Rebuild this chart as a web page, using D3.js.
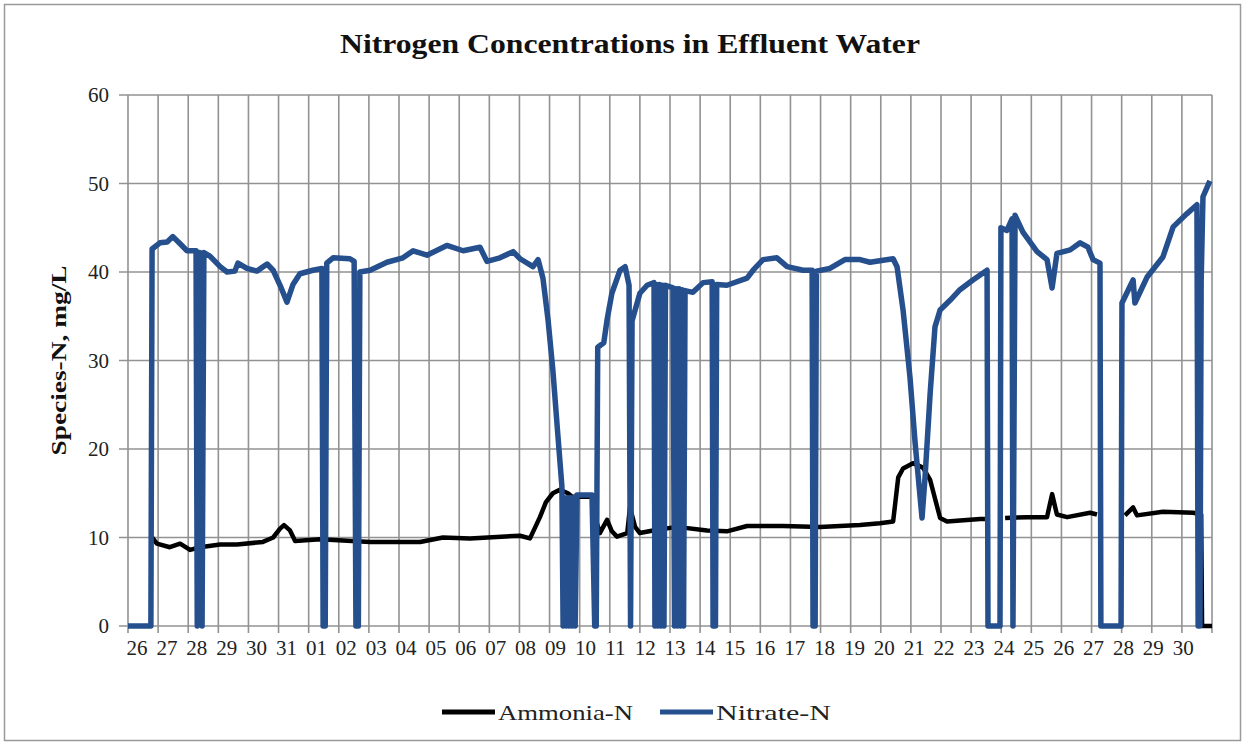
<!DOCTYPE html>
<html>
<head>
<meta charset="utf-8">
<script src="https://cdn.jsdelivr.net/npm/d3@7"></script>
<style>
  html, body { margin: 0; padding: 0; background: #fff; }
  svg { display: block; }
  text { font-family: "Liberation Serif", "Times New Roman", serif; fill: #222; }
</style>
</head>
<body>
<script>
'use strict';

// Category labels (one per day along the axis)
const dayLabels = ['26', '27', '28', '29', '30', '31', '01', '02', '03', '04', '05', '06',
  '07', '08', '09', '10', '11', '12', '13', '14', '15', '16', '17', '18', '19', '20',
  '21', '22', '23', '24', '25', '26', '27', '28', '29', '30'];

const yTicks = [0, 10, 20, 30, 40, 50, 60];

// Nitrate-N: time in days from start, value mg/L
const nitrateT = [0, 0.76, 0.80, 1.06, 1.30, 1.49, 1.73, 1.96, 2.26, 2.30, 2.38, 2.46, 2.52, 2.72, 3.06,
  3.29, 3.55, 3.65, 3.95, 4.28, 4.62, 4.82, 5.05, 5.28, 5.48, 5.71, 6.14, 6.44, 6.48, 6.55,
  6.60, 6.81, 7.37, 7.51, 7.57, 7.65, 7.70, 8.04, 8.60, 9.13, 9.47, 9.93, 10.59, 11.13, 11.69,
  11.92, 12.35, 12.79, 13.02, 13.45, 13.62, 13.78, 13.95, 14.11, 14.28, 14.41, 14.45, 14.50,
  14.55, 14.60, 14.65, 14.70, 14.75, 14.80, 14.85, 14.91, 15.41, 15.50, 15.55, 15.60, 15.80,
  15.91, 16.07, 16.34, 16.51, 16.64, 16.69, 16.74, 17.00, 17.24, 17.47, 17.50, 17.55, 17.60,
  17.65, 17.70, 17.75, 17.80, 17.85, 18.10, 18.15, 18.20, 18.25, 18.30, 18.35, 18.40, 18.45,
  18.50, 18.76, 19.10, 19.40, 19.43, 19.51, 19.55, 19.89, 20.56, 20.76, 21.09, 21.55,
  21.89, 22.42, 22.72, 22.75, 22.82, 22.86, 23.31, 23.81, 24.31, 24.64, 25.41, 25.54, 25.74,
  25.97, 26.14, 26.37, 26.47, 26.64, 26.80, 26.97, 27.30, 27.63, 28.06, 28.53, 28.56, 28.96,
  28.99, 29.19, 29.36, 29.39, 29.46, 29.72, 30.19, 30.52, 30.69, 30.85, 31.29, 31.62, 31.88,
  32.05, 32.28, 32.31, 32.98, 33.01, 33.38, 33.44, 33.84, 34.37, 34.71, 35.17, 35.50, 35.54,
  35.60, 35.64, 35.70, 35.93];
const nitrateN = [0, 0, 42.6, 43.3, 43.4, 44.0, 43.2, 42.4, 42.4, 0, 42.2, 0, 42.2, 41.8, 40.6,
  40.0, 40.1, 41.0, 40.4, 40.1, 40.9, 40.2, 38.5, 36.6, 38.6, 39.8, 40.2, 40.4, 0, 0,
  41.0, 41.6, 41.5, 41.2, 0, 0, 40.0, 40.2, 41.1, 41.6, 42.4, 41.9, 43.0, 42.4, 42.8,
  41.2, 41.6, 42.3, 41.5, 40.6, 41.4, 39.3, 34.6, 28.9, 21.4, 15.8, 0, 14.5,
  0, 14.5, 0, 14.5, 0, 14.5, 0, 14.8, 14.8, 0, 0, 31.5, 32.0,
  34.6, 37.6, 40.2, 40.6, 38.5, 0, 34.5, 37.6, 38.5, 38.8, 0, 38.6, 0,
  38.6, 0, 38.5, 0, 38.5, 38.2, 0, 38.1, 0, 38.1, 0, 38.0, 0,
  37.9, 37.7, 38.8, 38.9, 0, 0, 38.6, 38.5, 39.3, 40.2, 41.4, 41.6,
  40.6, 40.2, 40.2, 0, 0, 40.1, 40.4, 41.4, 41.4, 41.1, 41.5, 40.6, 35.7,
  28.1, 20.7, 12.2, 16.8, 26.3, 33.8, 35.7, 36.8, 38.0, 39.1, 40.2, 0, 0,
  45.0, 44.7, 46.0, 0, 46.4, 44.5, 42.3, 41.4, 38.2, 42.1, 42.5, 43.3, 42.8,
  41.4, 41.0, 0, 0, 36.5, 39.1, 36.5, 39.4, 41.7, 45.1, 46.6, 47.6, 0,
  0, 39.0, 48.5, 50.3];

// Ammonia-N: time in days from start, value mg/L (null = no reading)
const ammoniaT = [0.80, 0.96, 1.39, 1.73, 2.06, 2.39, 3.06, 3.62, 4.48, 4.82, 5.05, 5.18, 5.38,
  5.55, 6.38, 8.04, 9.70, 10.46, 11.36, 13.02, 13.35, 13.68, 13.88, 14.11, 14.34, 14.61, 14.75,
  15.41, 15.47, 15.54, 15.67, 15.91, 16.07, 16.24, 16.58, 16.67, 16.84, 17.00, 17.44, 18.23,
  19.23, 19.89, 20.56, 21.75, 22.98, 24.31, 24.97, 25.41, 25.58, 25.74, 26.07, 26.40, 26.64,
  26.97, 27.20, 28.30, 28.46, 28.50, 29.13, 29.86, 30.52, 30.69, 30.85, 31.19, 31.95, 32.18,
  32.20, 33.11, 33.38, 33.51, 34.37, 35.38, 35.64, 35.67, 36.0];
const ammoniaN = [10.0, 9.3, 8.9, 9.3, 8.6, 8.9, 9.2, 9.2, 9.5, 10.0, 11.0, 11.4, 10.8,
  9.6, 9.8, 9.5, 9.5, 10.0, 9.9, 10.2, 9.9, 12.3, 14.0, 15.0, 15.4, 15.0, 14.6,
  14.6, 13.5, 12.0, 10.5, 12.0, 10.7, 10.1, 10.5, 13.4, 11.2, 10.5, 10.8, 11.2,
  10.8, 10.7, 11.3, 11.3, 11.2, 11.4, 11.6, 11.8, 16.8, 17.8, 18.4, 17.9, 16.5,
  12.2, 11.8, 12.1, 12.1, null, 12.2, 12.3, 12.3, 14.9, 12.6, 12.3, 12.8, 12.6,
  null, 12.5, 13.4, 12.5, 12.9, 12.8, 12.6, 0, 0];

const series = [
  { name: 'Ammonia-N', color: '#000000', width: 4.5, t: ammoniaT, v: ammoniaN },
  { name: 'Nitrate-N', color: '#254f8d', width: 5.5, t: nitrateT, v: nitrateN }
];

// Layout
const W = 1254, H = 746;
const plot = { left: 128, right: 1212, top: 95, bottom: 626 };

const svg = d3.select('body').append('svg')
  .attr('width', W)
  .attr('height', H);

// Outer chart border
svg.append('rect')
  .attr('x', 4.5).attr('y', 4.5)
  .attr('width', 1236).attr('height', 736)
  .attr('fill', '#fff')
  .attr('stroke', '#9a9a9a')
  .attr('stroke-width', 1.5);

const x = d3.scaleLinear().domain([0, dayLabels.length]).range([plot.left, plot.right]);
const y = d3.scaleLinear().domain([0, 60]).range([plot.bottom, plot.top]);

const gridColor = '#929292';

// Horizontal gridlines (with short ticks to the left)
svg.append('g')
  .selectAll('line')
  .data(yTicks)
  .enter().append('line')
  .attr('x1', plot.left - 9)
  .attr('x2', plot.right)
  .attr('y1', d => y(d))
  .attr('y2', d => y(d))
  .attr('stroke', gridColor)
  .attr('stroke-width', 1.6);

// Vertical gridlines (with ticks below the axis)
svg.append('g')
  .selectAll('line')
  .data(d3.range(dayLabels.length + 1))
  .enter().append('line')
  .attr('x1', d => x(d))
  .attr('x2', d => x(d))
  .attr('y1', plot.top)
  .attr('y2', plot.bottom + 7)
  .attr('stroke', gridColor)
  .attr('stroke-width', 1.6);

// Y tick labels
svg.append('g')
  .selectAll('text')
  .data(yTicks)
  .enter().append('text')
  .attr('x', plot.left - 19)
  .attr('y', d => y(d) + 7)
  .attr('text-anchor', 'end')
  .style('font-size', '21px')
  .text(d => d);

// X tick labels
svg.append('g')
  .selectAll('text')
  .data(dayLabels)
  .enter().append('text')
  .attr('x', (d, i) => x(i + 0.3) - i * 0.22)
  .attr('y', plot.bottom + 29)
  .attr('text-anchor', 'middle')
  .style('font-size', '21px')
  .text(d => d);

// Title
svg.append('text')
  .attr('x', 630)
  .attr('y', 53)
  .attr('text-anchor', 'middle')
  .attr('textLength', 580)
  .attr('lengthAdjust', 'spacingAndGlyphs')
  .style('font-size', '28px')
  .style('font-weight', 'bold')
  .style('fill', '#111')
  .text('Nitrogen Concentrations  in Effluent Water');

// Y axis title
svg.append('text')
  .attr('transform', `translate(66,${(plot.top + plot.bottom) / 2}) rotate(-90)`)
  .attr('text-anchor', 'middle')
  .attr('textLength', 190)
  .attr('lengthAdjust', 'spacingAndGlyphs')
  .style('font-size', '21px')
  .style('font-weight', 'bold')
  .style('fill', '#111')
  .text('Species-N, mg/L');

// Series lines
const lineGen = d3.line()
  .defined(d => d[1] !== null)
  .x(d => x(d[0]))
  .y(d => y(d[1]));

series.forEach(s => {
  const pts = s.t.map((t, i) => [t, s.v[i]]);
  svg.append('path')
    .datum(pts)
    .attr('d', lineGen)
    .attr('fill', 'none')
    .attr('stroke', s.color)
    .attr('stroke-width', s.width)
    .attr('stroke-linejoin', 'round')
    .attr('stroke-linecap', 'butt');
});

// Legend
const legend = svg.append('g').attr('transform', 'translate(442,712)');
const legendItems = [
  { name: 'Ammonia-N', color: '#000000', x: 0, len: 135 },
  { name: 'Nitrate-N', color: '#254f8d', x: 218, len: 115 }
];
legendItems.forEach(it => {
  legend.append('line')
    .attr('x1', it.x).attr('x2', it.x + 53)
    .attr('y1', 0).attr('y2', 0)
    .attr('stroke', it.color)
    .attr('stroke-width', 5);
  legend.append('text')
    .attr('x', it.x + 56)
    .attr('y', 8)
    .attr('textLength', it.len)
    .attr('lengthAdjust', 'spacingAndGlyphs')
    .style('font-size', '22px')
    .text(it.name);
});
</script>
</body>
</html>
